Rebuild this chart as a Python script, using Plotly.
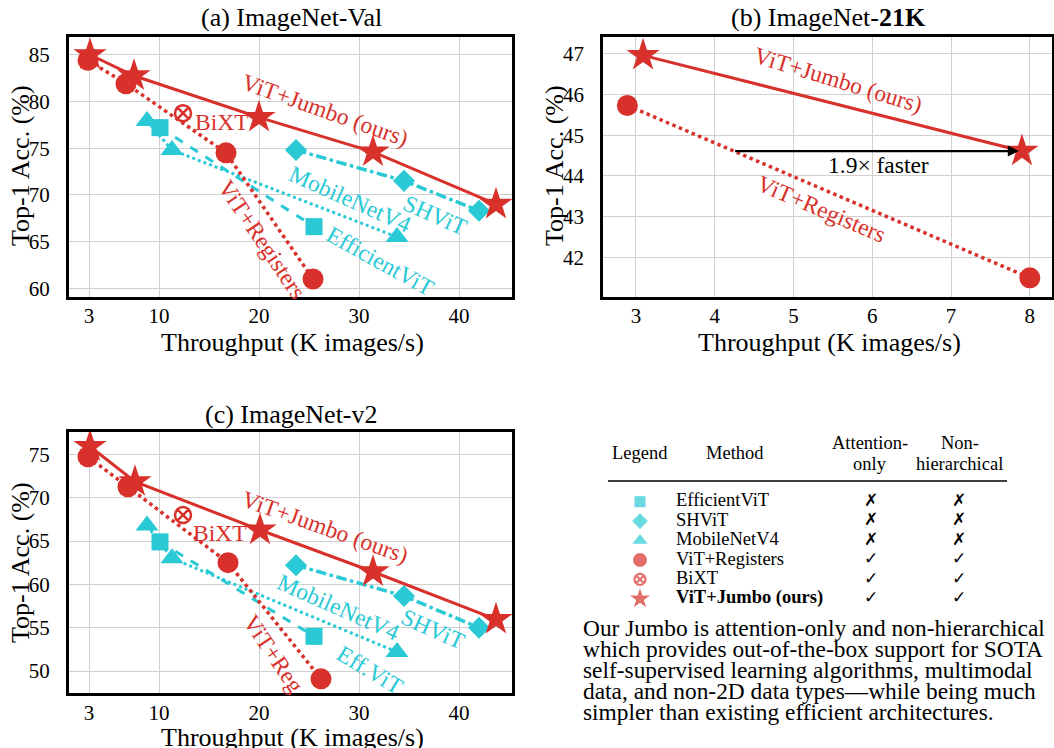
import plotly.graph_objects as go

W, H = 1054, 748
RED = "#D8302A"
CYAN = "#29C9D5"
SERIF = "Liberation Serif, Times New Roman, serif"

# ---------------- data ----------------
# (a) ImageNet-Val
a_jumbo_x = [3.1, 7.5, 20.0, 31.4, 43.7]
a_jumbo_y = [85.0, 82.75, 78.3, 74.6, 69.0]
a_reg_x = [2.9, 6.7, 16.7, 25.4]
a_reg_y = [84.4, 81.9, 74.5, 61.0]
a_bixt_x = [12.4]
a_bixt_y = [78.75]
a_eff_x = [10.1, 25.5]
a_eff_y = [77.2, 66.6]
a_mob_x = [8.8, 11.3, 33.8]
a_mob_y = [77.9, 74.8, 65.5]
a_shv_x = [23.7, 34.5, 42.0]
a_shv_y = [74.8, 71.5, 68.3]

# (b) ImageNet-21K
b_jumbo_x = [3.09, 7.9]
b_jumbo_y = [46.96, 44.61]
b_reg_x = [2.89, 8.0]
b_reg_y = [45.73, 41.5]

# (c) ImageNet-v2
c_jumbo_x = [3.1, 7.6, 20.1, 31.4, 43.7]
c_jumbo_y = [75.9, 71.84, 66.27, 61.45, 55.96]
c_reg_x = [2.9, 6.9, 16.9, 26.2]
c_reg_y = [74.72, 71.26, 62.5, 49.1]
c_bixt_x = [12.4]
c_bixt_y = [68.0]
c_eff_x = [10.1, 25.5]
c_eff_y = [64.9, 54.0]
c_mob_x = [8.8, 11.3, 33.8]
c_mob_y = [66.8, 63.0, 52.2]
c_shv_x = [23.7, 34.5, 42.0]
c_shv_y = [62.2, 58.65, 55.0]

# tick labels
ab_xticks = [3, 10, 20, 30, 40]
a_yticks = [60, 65, 70, 75, 80, 85]
b_xticks = [3, 4, 5, 6, 7, 8]
b_yticks = [42, 43, 44, 45, 46, 47]
c_yticks = [50, 55, 60, 65, 70, 75]

# table
tbl_methods = ["EfficientViT", "SHViT", "MobileNetV4", "ViT+Registers", "BiXT", "<b>ViT+Jumbo (ours)</b>"]
tbl_attn = ["✗", "✗", "✗", "✓", "✓", "✓"]
tbl_nonh = ["✗", "✗", "✗", "✓", "✓", "✓"]
tbl_symbols = ["square", "diamond", "triangle-up", "circle", "circle-x-open", "star"]
tbl_colors = [CYAN, CYAN, CYAN, RED, RED, RED]

paragraph = [
    "Our Jumbo is attention-only and non-hierarchical",
    "which provides out-of-the-box support for SOTA",
    "self-supervised learning algorithms, multimodal",
    "data, and non-2D data types—while being much",
    "simpler than existing efficient architectures.",
]

fig = go.Figure()


def px_x(p):
    return p / W


def px_y(p):
    return 1 - p / H


def add_series(xa, ya, x, y, name, color, symbol, size, dash=None, lw=3, mode="lines+markers", mline=None):
    marker = dict(symbol=symbol, size=size, color=color)
    if mline:
        marker["line"] = mline
    fig.add_trace(go.Scatter(
        x=x, y=y, mode=mode, name=name, xaxis=xa, yaxis=ya,
        line=dict(color=color, width=lw, dash=dash) if "lines" in mode else None,
        marker=marker, showlegend=False, cliponaxis=False,
    ))


for xa, ya, eff, mob, shv, reg, bixt, jumbo in [
    ("x", "y", (a_eff_x, a_eff_y), (a_mob_x, a_mob_y), (a_shv_x, a_shv_y), (a_reg_x, a_reg_y), (a_bixt_x, a_bixt_y), (a_jumbo_x, a_jumbo_y)),
    ("x3", "y3", (c_eff_x, c_eff_y), (c_mob_x, c_mob_y), (c_shv_x, c_shv_y), (c_reg_x, c_reg_y), (c_bixt_x, c_bixt_y), (c_jumbo_x, c_jumbo_y)),
]:
    add_series(xa, ya, *eff, "EfficientViT", CYAN, "square", 17, dash="dash", lw=3)
    add_series(xa, ya, *mob, "MobileNetV4", CYAN, "triangle-up", 20, dash="dot", lw=3)
    add_series(xa, ya, *shv, "SHViT", CYAN, "diamond", 17, dash="dashdot", lw=3.5)
    add_series(xa, ya, *reg, "ViT+Registers", RED, "circle", 21, dash="dot", lw=3.5)
    add_series(xa, ya, *bixt, "BiXT", RED, "circle-x-open", 16, mode="markers",
               mline=dict(color=RED, width=2.5))
    add_series(xa, ya, *jumbo, "ViT+Jumbo (ours)", RED, "star", 25, lw=3)

add_series("x2", "y2", b_reg_x, b_reg_y, "ViT+Registers", RED, "circle", 21, dash="dot", lw=3.5)
add_series("x2", "y2", b_jumbo_x, b_jumbo_y, "ViT+Jumbo (ours)", RED, "star", 25, lw=3)

# table legend markers
fig.add_trace(go.Scatter(
    x=[40] * len(tbl_methods), y=tbl_methods, mode="markers", xaxis="x4", yaxis="y4",
    marker=dict(symbol=tbl_symbols, size=[11, 12, 13, 14, 11, 15], color=tbl_colors,
                line=dict(color=tbl_colors, width=[0, 0, 0, 0, 2.2, 0])),
    showlegend=False, cliponaxis=False,
))
fig.add_trace(go.Scatter(
    x=[76] * len(tbl_methods), y=tbl_methods, mode="text", text=tbl_methods,
    textposition="middle right", xaxis="x4", yaxis="y4",
    textfont=dict(family=SERIF, size=18.5, color="black"), showlegend=False, cliponaxis=False,
))
fig.add_trace(go.Scatter(
    x=[271] * len(tbl_methods), y=tbl_methods, mode="text", text=tbl_attn,
    textposition="middle center", xaxis="x4", yaxis="y4",
    textfont=dict(family="DejaVu Sans", size=17, color="black"), showlegend=False, cliponaxis=False,
))
fig.add_trace(go.Scatter(
    x=[359] * len(tbl_methods), y=tbl_methods, mode="text", text=tbl_nonh,
    textposition="middle center", xaxis="x4", yaxis="y4",
    textfont=dict(family="DejaVu Sans", size=17, color="black"), showlegend=False, cliponaxis=False,
))

axis_common = dict(
    showgrid=True, gridcolor="#d0d0d0", gridwidth=1, zeroline=False,
    showline=True, linecolor="black", linewidth=3, mirror=True, automargin=False,
    ticks="", tickfont=dict(family=SERIF, size=21, color="black"),
)

ab_dom_x = [px_x(69), px_x(512)]
ab_dom_y = [px_y(297), px_y(37)]
c_dom_y = [px_y(693.3), px_y(432.3)]
b_dom_x = [px_x(603.3), px_x(1051.5)]

fig.update_layout(
    width=W, height=H, margin=dict(l=0, r=0, t=0, b=0, autoexpand=False),
    paper_bgcolor="white", plot_bgcolor="white",
    xaxis=dict(domain=ab_dom_x, range=[1.0, 45.3], tickvals=ab_xticks, anchor="y",
               ticklabelstandoff=-2, **axis_common),
    yaxis=dict(domain=ab_dom_y, range=[59.07, 86.9], tickvals=a_yticks, anchor="x",
               ticklabelstandoff=12, **axis_common),
    xaxis2=dict(domain=b_dom_x, range=[2.585, 8.275], tickvals=b_xticks, anchor="y2",
                ticklabelstandoff=-2, **axis_common),
    yaxis2=dict(domain=ab_dom_y, range=[41.03, 47.41], tickvals=b_yticks, anchor="x2",
                ticklabelstandoff=12, **axis_common),
    xaxis3=dict(domain=ab_dom_x, range=[1.0, 45.3], tickvals=ab_xticks, anchor="y3",
                ticklabelstandoff=-2, **axis_common),
    yaxis3=dict(domain=c_dom_y, range=[47.43, 77.54], tickvals=c_yticks, anchor="x3",
                ticklabelstandoff=12, **axis_common),
    xaxis4=dict(domain=[px_x(600), px_x(1010)], range=[0, 410], visible=False, anchor="y4"),
    yaxis4=dict(domain=[px_y(614.5), px_y(488.5)], type="category", autorange="reversed",
                visible=False, anchor="x4"),
)

ann = []


def text_px(x, y, t, size=26, color="black", angle=0, xanchor="center", family=SERIF):
    ann.append(dict(x=px_x(x), y=px_y(y), xref="paper", yref="paper", text=t, showarrow=False,
                    font=dict(family=family, size=size, color=color), textangle=angle,
                    xanchor=xanchor, yanchor="middle"))


def text_data(xr, yr, x, y, t, color, angle=0, size=23.5):
    ann.append(dict(x=x, y=y, xref=xr, yref=yr, text=t, showarrow=False,
                    font=dict(family=SERIF, size=size, color=color), textangle=angle,
                    xanchor="center", yanchor="middle"))


# titles
text_px(291.5, 18, "(a) ImageNet-Val", 26)
text_px(828, 18, "(b) ImageNet-<b>21K</b>", 26)
text_px(291.7, 414, "(c) ImageNet-v2", 26)
# axis titles
text_px(292.5, 342, "Throughput (K images/s)", 26)
text_px(829, 342, "Throughput (K images/s)", 26)
text_px(292.5, 737, "Throughput (K images/s)", 26)
text_px(20, 166, "Top-1 Acc. (%)", 26, angle=-90)
text_px(554, 166, "Top-1 Acc. (%)", 26, angle=-90)
text_px(20, 563, "Top-1 Acc. (%)", 26, angle=-90)

# panel (a) labels
text_data("x", "y", 26.6, 79.1, "ViT+Jumbo (ours)", RED, 19.5)
text_data("x", "y", 16.3, 77.85, "BiXT", RED, 0)
text_data("x", "y", 20.3, 65.3, "ViT+Registers", RED, 56)
text_data("x", "y", 29.1, 69.6, "MobileNetV4", CYAN, 24)
text_data("x", "y", 37.6, 67.85, "SHViT", CYAN, 24)
text_data("x", "y", 32.1, 62.9, "EfficientViT", CYAN, 29)

# panel (b) labels
text_data("x2", "y2", 5.57, 46.35, "ViT+Jumbo (ours)", RED, 17)
text_data("x2", "y2", 5.36, 43.2, "ViT+Registers", RED, 23)
text_data("x2", "y2", 6.08, 44.27, "1.9× faster", "black", 0)
ann.append(dict(x=7.86, y=b_jumbo_y[1], ax=4.24, ay=b_jumbo_y[1], xref="x2", yref="y2",
                axref="x2", ayref="y2", text="", showarrow=True, arrowhead=2, arrowsize=1,
                arrowwidth=2.2, arrowcolor="black"))

# panel (c) labels
text_data("x3", "y3", 26.6, 66.65, "ViT+Jumbo (ours)", RED, 19.5)
text_data("x3", "y3", 16.1, 65.9, "BiXT", RED, 0)
text_data("x3", "y3", 21.5, 52.0, "ViT+Reg", RED, 56)
text_data("x3", "y3", 27.9, 57.35, "MobileNetV4", CYAN, 24)
text_data("x3", "y3", 37.4, 54.9, "SHViT", CYAN, 24)
text_data("x3", "y3", 31.1, 50.1, "Eff.ViT", CYAN, 31)

# table header
text_px(640, 453, "Legend", 18.5)
text_px(735, 453, "Method", 18.5)
text_px(870, 443, "Attention-", 18.5)
text_px(870, 464, "only", 18.5)
text_px(959.5, 443, "Non-", 18.5)
text_px(959.5, 464, "hierarchical", 18.5)

# paragraph
for i, line in enumerate(paragraph):
    text_px(581, 628 + 21 * i, line, 23.4, xanchor="left")

fig.update_layout(annotations=ann)
fig.add_shape(type="line", xref="paper", yref="paper", x0=px_x(608), x1=px_x(1007),
              y0=px_y(481), y1=px_y(481), line=dict(color="black", width=1.5))

fig.write_html("out.html", config={"displayModeBar": False},
               post_script="document.body.style.margin='0px';document.body.style.overflow='hidden';")
